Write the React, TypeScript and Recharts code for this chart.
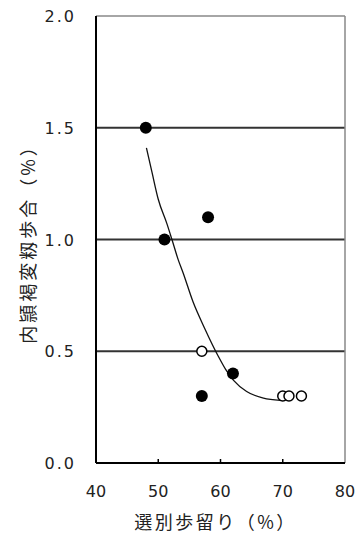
import React from 'react';
import { ComposedChart, XAxis, YAxis, Line, Scatter, ReferenceLine } from 'recharts';

const xTicks = [40, 50, 60, 70, 80];
const yTicks = [0, 0.5, 1.0, 1.5, 2.0];
const gridValues = [0.5, 1.0, 1.5];

const filledX = [48, 51, 58, 62, 57];
const filledY = [1.5, 1.0, 1.1, 0.4, 0.3];

const openX = [57, 70, 71, 73];
const openY = [0.5, 0.3, 0.3, 0.3];

const curveX = [48.1, 49.0, 50.0, 51.4, 52.2, 53.2, 54.0, 55.6, 57.5, 59.6, 60.8, 62.1, 64.2, 66.9, 69.6];
const curveY = [1.41, 1.30, 1.18, 1.07, 1.00, 0.91, 0.85, 0.72, 0.60, 0.48, 0.42, 0.37, 0.32, 0.29, 0.28];

const xTitle = '選別歩留り（%）';
const yTitle = '内頴褐変籾歩合（%）';

const filled = filledX.map((x, i) => ({ x, y: filledY[i] }));
const open = openX.map((x, i) => ({ x, y: openY[i] }));
const curve = curveX.map((x, i) => ({ x, y: curveY[i] }));

const XTick = (props: any) => {
  const { x, y, payload } = props;
  const v = payload.value;
  return (
    <g>
      {v !== 40 && v !== 80 ? <line x1={x} x2={x} y1={y} y2={y - 4} stroke="#000" strokeWidth={1.5} /> : null}
      <text x={x} y={y + 34} textAnchor="middle" fontFamily="DejaVu Sans" fontSize={16} fill="#222">
        {v}
      </text>
    </g>
  );
};

const YTick = (props: any) => {
  const { x, y, payload } = props;
  return (
    <text x={x - 20} y={y + 6} textAnchor="end" fontFamily="DejaVu Sans" fontSize={16} letterSpacing={2} fill="#222">
      {Number(payload.value).toFixed(1)}
    </text>
  );
};

export default function App() {
  return (
    <div style={{ position: 'absolute', left: 0, top: 0, background: '#fff' }}>
      <ComposedChart width={361} height={540} margin={{ top: 16, right: 16, bottom: 0, left: 0 }}>
        <XAxis
          type="number"
          dataKey="x"
          domain={[40, 80]}
          ticks={xTicks}
          height={77}
          tickSize={0}
          tickMargin={0}
          tickLine={false}
          axisLine={{ stroke: '#000', strokeWidth: 2 }}
          tick={<XTick />}
          label={{
            content: ({ viewBox }: any) => (
              <text
                x={viewBox.x + viewBox.width / 2 - 5}
                y={viewBox.y + 66}
                textAnchor="middle"
                fontFamily="Noto Sans CJK JP"
                fontSize={18}
                letterSpacing={2.5}
                fill="#222"
              >
                {xTitle}
              </text>
            ),
          }}
        />
        <YAxis
          type="number"
          dataKey="y"
          domain={[0, 2]}
          ticks={yTicks}
          width={96}
          tickSize={0}
          tickMargin={0}
          tickLine={false}
          axisLine={{ stroke: '#000', strokeWidth: 2 }}
          tick={<YTick />}
          label={{
            content: ({ viewBox }: any) => {
              const cx = 27;
              const cy = viewBox.y + viewBox.height / 2;
              return (
                <text
                  x={cx}
                  y={cy}
                  transform={`rotate(-90 ${cx} ${cy})`}
                  textAnchor="middle"
                  dominantBaseline="central"
                  fontFamily="Noto Sans CJK JP"
                  fontSize={18}
                  letterSpacing={3}
                  fill="#222"
                >
                  {yTitle}
                </text>
              );
            },
          }}
        />
        {gridValues.map((v) => (
          <ReferenceLine key={v} y={v} stroke="#333" strokeWidth={2} ifOverflow="visible" />
        ))}
        <ReferenceLine y={2} stroke="#888" strokeWidth={1.5} ifOverflow="visible" />
        <ReferenceLine x={80} stroke="#888" strokeWidth={1.5} ifOverflow="visible" />
        <Line
          data={curve}
          dataKey="y"
          type="monotone"
          stroke="#111"
          strokeWidth={1.3}
          dot={false}
          activeDot={false}
          isAnimationActive={false}
        />
        <Scatter
          data={filled}
          dataKey="y"
          isAnimationActive={false}
          shape={(p: any) => <circle cx={p.cx} cy={p.cy} r={6} fill="#000" />}
        />
        <Scatter
          data={open}
          dataKey="y"
          isAnimationActive={false}
          shape={(p: any) => <circle cx={p.cx} cy={p.cy} r={5} fill="#fff" stroke="#000" strokeWidth={1.5} />}
        />
      </ComposedChart>
    </div>
  );
}
